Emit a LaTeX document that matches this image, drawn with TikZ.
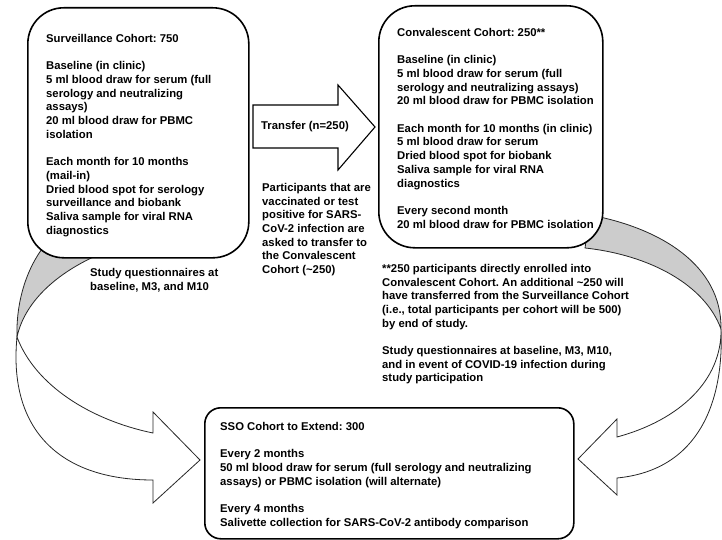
\documentclass[tikz,border=0pt]{standalone}
\usepackage{fontspec}
\setmainfont{Liberation Sans}
\usetikzlibrary{positioning}
\frenchspacing

\begin{document}
\begin{tikzpicture}[
    x=1pt, y=-1pt,
    cohort/.style={rectangle, draw=black, line width=1.6pt, rounded corners=36pt, fill=white, inner sep=0pt, anchor=north west},
    txt/.style={align=left, inner sep=0pt, anchor=north west, font=\fontsize{11.3}{13.7}\selectfont\bfseries},
    band/.style={draw=black!85, line width=0.8pt, fill=black!20},
    front/.style={draw=black!85, line width=0.8pt, fill=white},
    blockarrow/.style={draw=black, line width=1.1pt, fill=white}
]
\useasboundingbox (0,0) rectangle (722,540);

% Back of the curved arrows
\draw[band] (45,245) .. controls (25,270) and (16,305) .. (17,337)
    .. controls (25,300) and (60,270) .. (105,252) -- cycle;
\draw[band] (590,215) .. controls (660,228) and (722,265) .. (721,329)
    .. controls (705,285) and (650,255) .. (585,248) -- cycle;

% Cohorts
\node[cohort, minimum width=221pt, minimum height=250pt] (surv) at (27,7) {};
\node[txt] (survtxt) at ([xshift=19pt, yshift=-27pt]surv.north west)
    {Surveillance Cohort: 750\\[13.7pt]
     Baseline (in clinic)\\
     5 ml blood draw for serum (full\\
     serology and neutralizing\\
     assays)\\
     20 ml blood draw for PBMC\\
     isolation\\[13.7pt]
     Each month for 10 months\\
     (mail-in)\\
     Dried blood spot for serology\\
     surveillance and biobank\\
     Saliva sample for viral RNA\\
     diagnostics};

\node[cohort, minimum width=224pt, minimum height=242pt] (conv) at (378,5) {};
\node[txt] (convtxt) at ([xshift=19pt, yshift=-23pt]conv.north west)
    {Convalescent Cohort: 250**\\[13.7pt]
     Baseline (in clinic)\\
     5 ml blood draw for serum (full\\
     serology and neutralizing assays)\\
     20 ml blood draw for PBMC isolation\\[13.7pt]
     Each month for 10 months (in clinic)\\
     5 ml blood draw for serum\\
     Dried blood spot for biobank\\
     Saliva sample for viral RNA\\
     diagnostics\\[13.7pt]
     Every second month\\
     20 ml blood draw for PBMC isolation};

\node[cohort, rounded corners=16pt, minimum width=369pt, minimum height=131pt] (sso) at (204,407) {};
\node[txt] (ssotxt) at ([xshift=16pt, yshift=-15pt]sso.north west)
    {SSO Cohort to Extend: 300\\[13.7pt]
     Every 2 months\\
     50 ml blood draw for serum (full serology and neutralizing\\
     assays) or PBMC isolation (will alternate)\\[13.7pt]
     Every 4 months\\
     Salivette collection for SARS-CoV-2 antibody comparison};

% Transfer
\draw[blockarrow] (253,105) -- (338,105) -- (338,85) -- (375,127) -- (338,170) -- (338,148) -- (253,148) -- cycle;
\node[txt, anchor=west] (transfer) at (261,127) {Transfer (n=250)};
\node[txt] (transfernote) at (262,183)
    {Participants that are\\
     vaccinated or test\\
     positive for SARS-\\
     CoV-2 infection are\\
     asked to transfer to\\
     the Convalescent\\
     Cohort (\textasciitilde 250)};

% Notes
\node[txt] (survnote) at (90,268)
    {Study questionnaires at\\
     baseline, M3, and M10};
\node[txt] (convnote) at (382,264)
    {**250 participants directly enrolled into\\
     Convalescent Cohort. An additional \textasciitilde 250 will\\
     have transferred from the Surveillance Cohort\\
     (i.e., total participants per cohort will be 500)\\
     by end of study.\\[13.7pt]
     Study questionnaires at baseline, M3, M10,\\
     and in event of COVID-19 infection during\\
     study participation};

% Front of the curved arrows
\draw[front] (17,337) .. controls (8,430) and (60,480) .. (153,480)
    -- (153,503) -- (200,460) -- (153,412) -- (153,433)
    .. controls (90,420) and (35,385) .. (17,337) -- cycle;
\draw[front] (721,329) .. controls (724,400) and (700,470) .. (617,478)
    -- (617,495) -- (578,459) -- (617,419) -- (617,437)
    .. controls (680,420) and (722,380) .. (721,329) -- cycle;

\end{tikzpicture}
\end{document}
